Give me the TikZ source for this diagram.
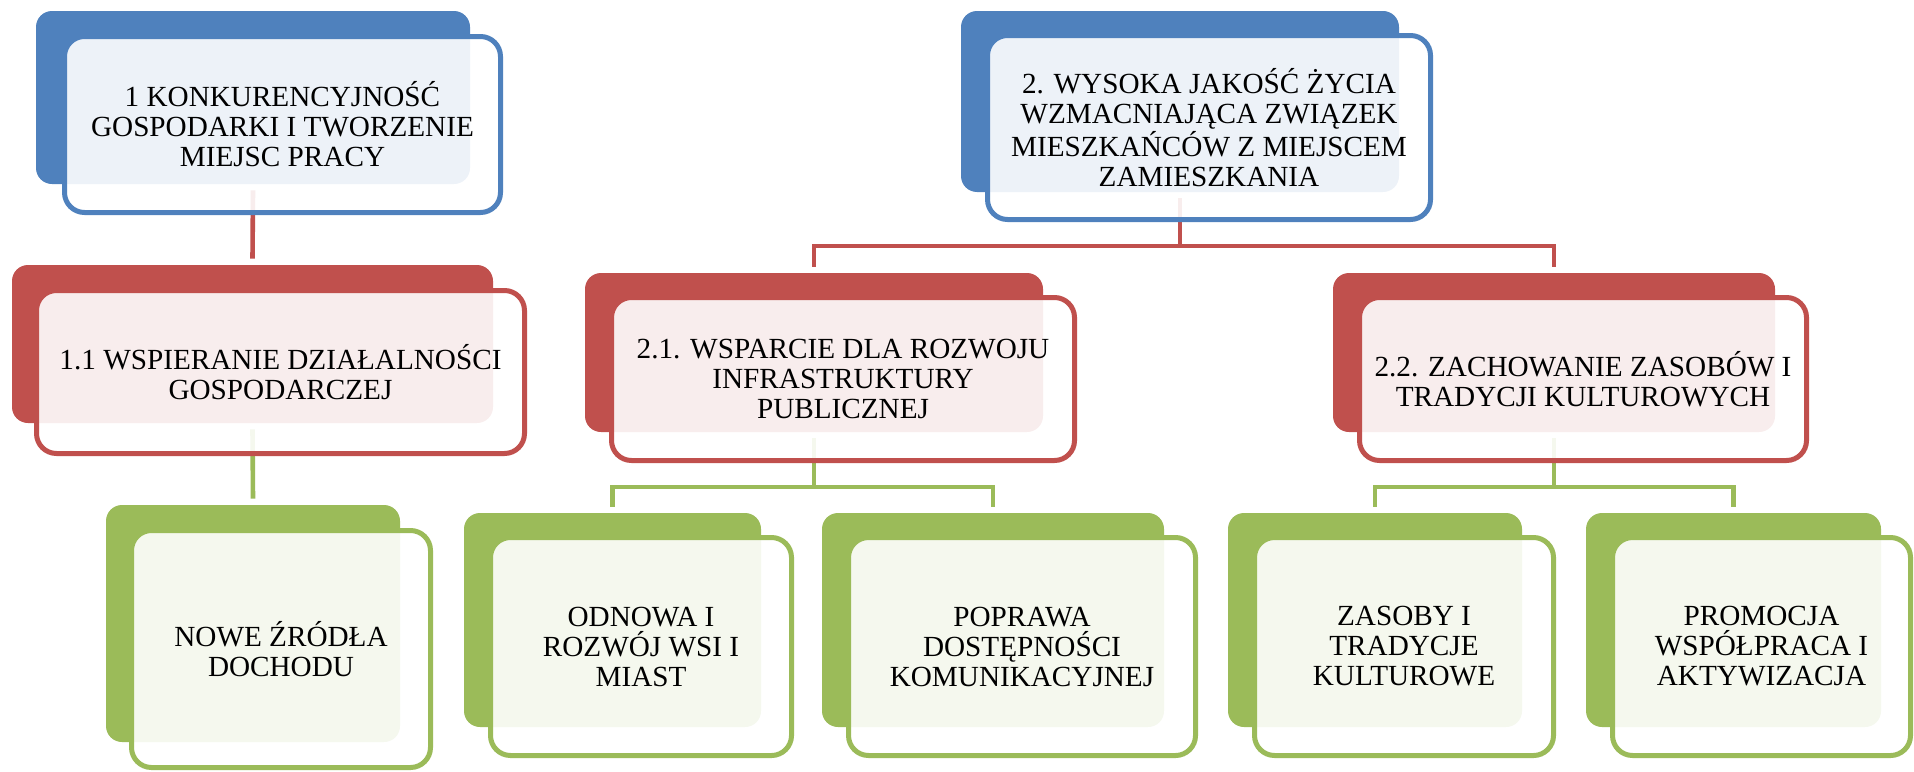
\documentclass[tikz,border=0pt]{standalone}
\usepackage{fontspec}
\setmainfont{Liberation Serif}
\definecolor{accblue}{HTML}{4F81BD}
\definecolor{accred}{HTML}{C0504D}
\definecolor{accgreen}{HTML}{9BBB59}

\begin{document}
\begin{tikzpicture}[x=0.5pt, y=-0.5pt,
    backbox/.style={rectangle, rounded corners=8pt, fill=#1, inner sep=0pt},
    frontbox/.style={rectangle, rounded corners=10pt, draw=#1, line width=2.5pt, fill=white, fill opacity=0.9, text opacity=1, inner sep=2pt, align=center, font=\fontsize{14.6pt}{15pt}\selectfont},
    link/.style={draw=#1, line width=2.3pt},]
    \useasboundingbox (0,0) rectangle (1914,771);
    % back boxes
    \node[backbox=accblue,  minimum width=217pt,   minimum height=86.5pt]  (b1)   at (253,97.5)    {};
    \node[backbox=accblue,  minimum width=219pt,   minimum height=90.5pt]  (b2)   at (1180,101.5)  {};
    \node[backbox=accred,   minimum width=240.5pt, minimum height=79pt]    (b11)  at (252.5,344)   {};
    \node[backbox=accred,   minimum width=229pt,   minimum height=79.5pt]  (b21)  at (814,352.5)   {};
    \node[backbox=accred,   minimum width=221pt,   minimum height=79.5pt]  (b22)  at (1554,352.5)  {};
    \node[backbox=accgreen, minimum width=147pt,   minimum height=118.5pt] (b111) at (253,623.5)   {};
    \node[backbox=accgreen, minimum width=148.5pt, minimum height=107pt]   (b211) at (612.5,620)   {};
    \node[backbox=accgreen, minimum width=171pt,   minimum height=107pt]   (b212) at (993,620)     {};
    \node[backbox=accgreen, minimum width=147pt,   minimum height=107pt]   (b221) at (1375,620)    {};
    \node[backbox=accgreen, minimum width=147.5pt, minimum height=107pt]   (b222) at (1733.5,620)  {};
    % lines
    \coordinate (j2)  at (1180,246);
    \coordinate (j21) at (814,487);
    \coordinate (j22) at (1554,487);
    \draw[link=accred]   ([yshift=-3pt]b1.south) -- ([yshift=3pt]b11.north);
    \draw[link=accgreen] ([yshift=-3pt]b11.south) -- ([yshift=3pt]b111.north);
    \draw[link=accred]   ([yshift=-3pt]b2.south) -- (j2);
    \draw[link=accred]   ([yshift=3pt]b21.north) |- (j2) -| ([yshift=3pt]b22.north);
    \draw[link=accgreen] ([yshift=-3pt]b21.south) -- (j21);
    \draw[link=accgreen] ([yshift=3pt]b211.north) |- (j21) -| ([yshift=3pt]b212.north);
    \draw[link=accgreen] ([yshift=-3pt]b22.south) -- (j22);
    \draw[link=accgreen] ([yshift=3pt]b221.north) |- (j22) -| ([yshift=3pt]b222.north);
    % front boxes
    \node[frontbox=accblue,  minimum width=218pt,   minimum height=88pt]    (f1)   at (282.5,124.5) {1 KONKURENCYJNOŚĆ\\GOSPODARKI I TWORZENIE\\MIEJSC PRACY};
    \node[frontbox=accblue,  minimum width=221.5pt, minimum height=92pt]    (f2)   at (1209,127.5)  {2. WYSOKA JAKOŚĆ ŻYCIA\\WZMACNIAJĄCA ZWIĄZEK\\MIESZKAŃCÓW Z MIEJSCEM\\ZAMIESZKANIA};
    \node[frontbox=accred,   minimum width=244pt,   minimum height=81.5pt]  (f11)  at (280.5,372)   {1.1 WSPIERANIE DZIAŁALNOŚCI\\GOSPODARCZEJ};
    \node[frontbox=accred,   minimum width=231.5pt, minimum height=81.5pt]  (f21)  at (843,379)     {2.1. WSPARCIE DLA ROZWOJU\\INFRASTRUKTURY\\PUBLICZNEJ};
    \node[frontbox=accred,   minimum width=223.5pt, minimum height=81.5pt]  (f22)  at (1583,379)    {2.2. ZACHOWANIE ZASOBÓW I\\TRADYCJI KULTUROWYCH};
    \node[frontbox=accgreen, minimum width=149.5pt, minimum height=118.5pt] (f111) at (281,649)     {NOWE ŹRÓDŁA\\DOCHODU};
    \node[frontbox=accgreen, minimum width=150.5pt, minimum height=109pt]   (f211) at (641,646.5)   {ODNOWA I\\ROZWÓJ WSI I\\MIAST};
    \node[frontbox=accgreen, minimum width=173.5pt, minimum height=109pt]   (f212) at (1022,646.5)  {POPRAWA\\DOSTĘPNOŚCI\\KOMUNIKACYJNEJ};
    \node[frontbox=accgreen, minimum width=149.5pt, minimum height=109pt]   (f221) at (1404,646.5)  {ZASOBY I\\TRADYCJE\\KULTUROWE};
    \node[frontbox=accgreen, minimum width=149pt,   minimum height=109pt]   (f222) at (1761.5,646.5) {PROMOCJA\\WSPÓŁPRACA I\\AKTYWIZACJA};
\end{tikzpicture}
\end{document}
